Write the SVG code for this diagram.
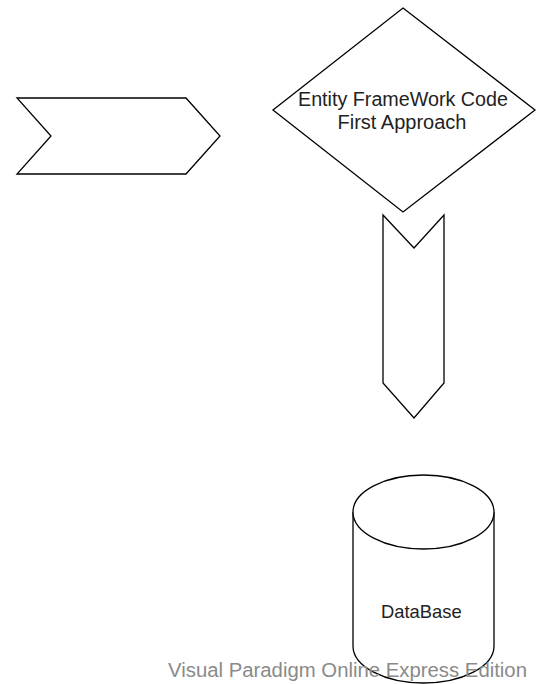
<svg xmlns="http://www.w3.org/2000/svg" width="539" height="684" viewBox="0 0 539 684">
<style>
.shape{fill:#fff;stroke:#000;stroke-width:1.3;stroke-linejoin:miter}
.lbl{font-family:"Liberation Sans",Arial,sans-serif;fill:#222;text-anchor:middle}
.wm{font-family:"Liberation Sans",Arial,sans-serif;fill:#8a8a8a;font-size:20px}
</style>
<rect width="539" height="684" fill="#fff"/>
<g id="connectors"></g>
<g id="chevron-right">
<polygon class="shape" points="17,98 186,98 220,136 186,174 17,174 51,136"/>
</g>
<g id="decision">
<polygon class="shape" points="403,8 535,110 403,212 273,110"/>
<text class="lbl" font-size="20" x="403" y="106" textLength="210" lengthAdjust="spacingAndGlyphs">Entity FrameWork Code</text>
<text class="lbl" font-size="20" x="402" y="128.5" textLength="129" lengthAdjust="spacingAndGlyphs">First Approach</text>
</g>
<g id="chevron-down">
<polygon class="shape" points="383,215 414,248 444,215 444,383 414,418 383,383"/>
</g>
<g id="database">
<path class="shape" d="M353,512 A70.5,37 0 0 1 494,512 L494,646 A70.5,37 0 0 1 353,646 Z"/>
<path class="shape" fill="none" d="M353,512 A70.5,37 0 0 0 494,512"/>
<text class="lbl" font-size="18.5" x="421.3" y="618.3" textLength="80.7" lengthAdjust="spacingAndGlyphs">DataBase</text>
</g>
<text class="wm" x="168" y="677" textLength="359" lengthAdjust="spacingAndGlyphs">Visual Paradigm Online Express Edition</text>
</svg>
